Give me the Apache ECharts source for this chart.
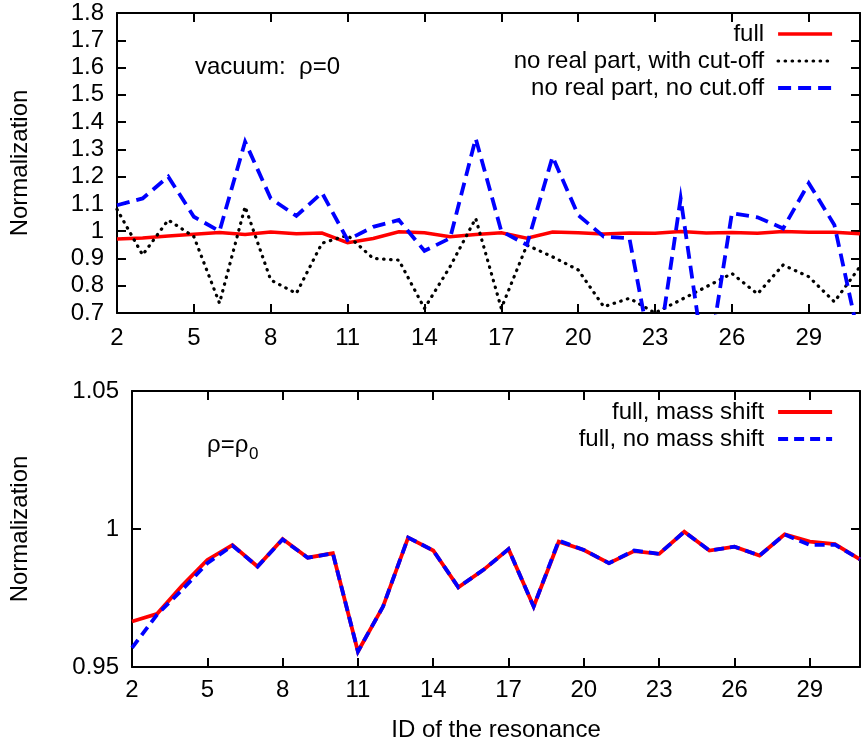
<!DOCTYPE html>
<html>
<head>
<meta charset="utf-8">
<script src="https://cdn.jsdelivr.net/npm/echarts@6/dist/echarts.min.js"></script>
<style>
  html, body { margin: 0; padding: 0; background: #fff; }
  #chart { width: 861px; height: 744px; }
</style>
</head>
<body>
<div id="chart"></div>
<script>
// Resonance IDs on the horizontal axis
const resonanceIds = ['2','3','4','5','6','7','8','9','10','11','12','13','14','15','16',
  '17','18','19','20','21','22','23','24','25','26','27','28','29','30','31'];

// Upper panel: vacuum, rho = 0
const vacuumFull = [0.971, 0.975, 0.982, 0.989, 0.995, 0.988, 0.997, 0.991, 0.993, 0.958,
  0.973, 0.998, 0.994, 0.980, 0.988, 0.994, 0.974, 0.997, 0.994, 0.990,
  0.993, 0.992, 0.999, 0.993, 0.995, 0.992, 0.999, 0.996, 0.996, 0.991];
const vacuumNoRealCut = [1.080, 0.913, 1.041, 0.980, 0.736, 1.090, 0.821, 0.772, 0.956, 0.985,
  0.900, 0.894, 0.717, 0.870, 1.047, 0.717, 0.949, 0.906, 0.858, 0.723,
  0.754, 0.700, 0.748, 0.796, 0.845, 0.770, 0.876, 0.833, 0.741, 0.870];
const vacuumNoRealNoCut = [1.095, 1.120, 1.200, 1.053, 1.000, 1.328, 1.120, 1.056, 1.141, 0.968,
  1.016, 1.041, 0.928, 0.974, 1.340, 1.000, 0.950, 1.273, 1.059, 0.980,
  0.974, 0.480, 1.120, 0.470, 1.066, 1.051, 1.010, 1.176, 1.023, 0.590];

// Lower panel: rho = rho_0
const mediumMassShift = [0.9665, 0.9693, 0.9795, 0.9888, 0.9942, 0.9864, 0.9964, 0.9896, 0.9912, 0.9556,
  0.9719, 0.9969, 0.9922, 0.9789, 0.9852, 0.9927, 0.9719, 0.9954, 0.9924, 0.9876,
  0.9920, 0.9910, 0.9990, 0.9922, 0.9936, 0.9904, 0.9981, 0.9954, 0.9945, 0.9890];
const mediumNoMassShift = [0.9569, 0.9690, 0.9780, 0.9876, 0.9940, 0.9864, 0.9962, 0.9896, 0.9912, 0.9556,
  0.9719, 0.9969, 0.9922, 0.9789, 0.9852, 0.9927, 0.9719, 0.9958, 0.9924, 0.9876,
  0.9922, 0.9910, 0.9990, 0.9922, 0.9936, 0.9904, 0.9980, 0.9942, 0.9943, 0.9890];

// Value-axis ranges: [min, max, step]
const upperRange = [0.7, 1.8, 0.1];
const lowerRange = [0.95, 1.05, 0.05];

const FONT = '"Liberation Sans", Arial, sans-serif';
const FS = 24;
const textBase = { color: '#000', fontFamily: FONT, fontSize: FS };

function frameLine() {
  return { show: true, onZero: false, lineStyle: { color: '#000', width: 2 } };
}
function innerTicks(extra) {
  return Object.assign({ show: true, inside: true, length: 9, lineStyle: { color: '#000', width: 2 } }, extra || {});
}

function xAxes(gridIndex, labelMargin, withName) {
  const bottom = {
    gridIndex, type: 'category', data: resonanceIds, boundaryGap: false, position: 'bottom',
    axisLine: frameLine(), axisTick: innerTicks({ interval: 2 }),
    axisLabel: Object.assign({ interval: 2, margin: labelMargin }, textBase),
    splitLine: { show: false }
  };
  if (withName) {
    bottom.name = 'ID of the resonance';
    bottom.nameLocation = 'middle';
    bottom.nameGap = 51;
    bottom.nameTextStyle = Object.assign({}, textBase);
  }
  const top = {
    gridIndex, type: 'category', data: resonanceIds, boundaryGap: false, position: 'top',
    axisLine: frameLine(), axisTick: innerTicks({ interval: 2 }),
    axisLabel: { show: false }, splitLine: { show: false }
  };
  return [bottom, top];
}

function yAxes(gridIndex, range, nameGap) {
  const left = {
    gridIndex, type: 'value', min: range[0], max: range[1], interval: range[2], position: 'left',
    axisLine: frameLine(), axisTick: innerTicks(),
    axisLabel: Object.assign({ margin: 13 }, textBase),
    splitLine: { show: false },
    name: 'Normalization', nameLocation: 'middle', nameGap: nameGap,
    nameTextStyle: Object.assign({}, textBase)
  };
  const right = {
    gridIndex, type: 'value', min: range[0], max: range[1], interval: range[2], position: 'right',
    axisLine: frameLine(), axisTick: innerTicks(),
    axisLabel: { show: false }, splitLine: { show: false }
  };
  return [left, right];
}

function lineSeries(name, data, xi, yi, lineStyle) {
  return {
    name, type: 'line', data, xAxisIndex: xi, yAxisIndex: yi,
    symbol: 'none', showSymbol: false, clip: true, animation: false,
    lineStyle: Object.assign({ join: 'miter' }, lineStyle),
    emphasis: { disabled: true }
  };
}

const legendBase = {
  orient: 'vertical', align: 'right', itemWidth: 54, itemHeight: 14, itemGap: 3, padding: 0,
  selectedMode: false,
  itemStyle: { opacity: 0 },
  lineStyle: { width: 'inherit' },
  textStyle: Object.assign({ padding: [0, 9, 0, 0] }, textBase)
};

const chart = echarts.init(document.getElementById('chart'), null, { renderer: 'canvas' });
chart.setOption({
  animation: false,
  backgroundColor: '#fff',
  grid: [
    { left: 117, right: 1, top: 13, height: 300 },
    { left: 132, right: 1, top: 391, height: 276 }
  ],
  xAxis: [].concat(xAxes(0, 13, false), xAxes(1, 11, true)),
  yAxis: [].concat(yAxes(0, upperRange, 85), yAxes(1, lowerRange, 100)),
  legend: [
    Object.assign({ data: ['full', 'no real part, with cut-off', 'no real part, no cut.off'], right: 27, top: 22 }, legendBase),
    Object.assign({ data: ['full, mass shift', 'full, no mass shift'], right: 27, top: 400 }, legendBase)
  ],
  series: [
    lineSeries('full', vacuumFull, 0, 0, { color: '#ff0000', width: 3.5 }),
    lineSeries('no real part, with cut-off', vacuumNoRealCut, 0, 0, { color: '#000', width: 3.2, type: [0.5, 6.5], cap: 'round' }),
    lineSeries('no real part, no cut.off', vacuumNoRealNoCut, 0, 0, { color: '#0000ff', width: 3.8, type: [13, 7] }),
    lineSeries('full, mass shift', mediumMassShift, 2, 2, { color: '#ff0000', width: 3.8 }),
    lineSeries('full, no mass shift', mediumNoMassShift, 2, 2, { color: '#0000ff', width: 3.8, type: [10, 6] })
  ],
  graphic: [
    { type: 'text', x: 195, y: 67, silent: true,
      style: { text: 'vacuum:  ρ=0', fill: '#000', font: FS + 'px ' + FONT, verticalAlign: 'middle' } },
    { type: 'text', x: 207, y: 445, silent: true,
      style: { text: 'ρ=ρ', fill: '#000', font: FS + 'px ' + FONT, verticalAlign: 'middle' } },
    { type: 'text', x: 249, y: 454, silent: true,
      style: { text: '0', fill: '#000', font: '17px ' + FONT, verticalAlign: 'middle' } }
  ]
});
</script>
</body>
</html>
